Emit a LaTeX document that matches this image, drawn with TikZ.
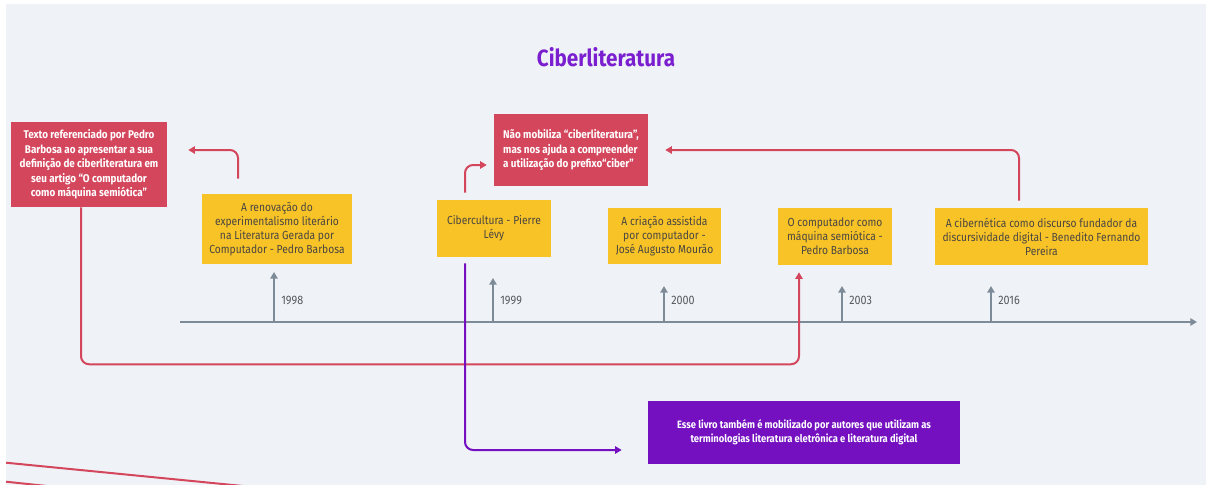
\documentclass[tikz,border=0pt]{standalone}
\usepackage{fontspec}
\setmainfont[FakeStretch=0.88]{Fira Sans}
\usetikzlibrary{arrows.meta,calc}

\definecolor{bgcol}{RGB}{239,243,247}
\definecolor{mapred}{RGB}{212,70,92}
\definecolor{mapyellow}{RGB}{248,195,38}
\definecolor{mappurple}{RGB}{117,16,193}
\definecolor{titlepurple}{RGB}{122,30,208}
\definecolor{axisgrey}{RGB}{125,139,153}
\definecolor{textgrey}{RGB}{74,70,66}
\definecolor{yeargrey}{RGB}{85,90,96}

\tikzset{
  yellowbox/.style={fill=mapyellow, text=textgrey, align=center, inner sep=0pt,
    font=\fontsize{8.75}{10.5}\selectfont},
  redbox/.style={fill=mapred, text=white, inner sep=0pt,
    font=\bfseries\fontsize{8.4}{10.8}\selectfont},
  purplebox/.style={fill=mappurple, text=white, align=center, inner sep=0pt,
    font=\bfseries\fontsize{8}{10.3}\selectfont},
  redarrow/.style={draw=mapred, line width=1.5pt, rounded corners=6pt,
    -{Triangle[length=5pt,width=5.5pt]}},
  purplearrow/.style={draw=mappurple, line width=1.5pt, rounded corners=6pt,
    -{Triangle[length=5pt,width=5.5pt]}},
  axisline/.style={draw=axisgrey, line width=1.5pt,
    -{Triangle[length=5pt,width=5.5pt]}},
  yearlbl/.style={anchor=west, inner sep=0.75pt, text=yeargrey,
    font=\fontsize{9.2}{10}\selectfont}
}

\begin{document}
\begin{tikzpicture}[x=0.75pt,y=0.75pt,yscale=-1,xscale=1]
\useasboundingbox (0,0) rectangle (1206,485);
%Shape: Rectangle (background)
\fill [bgcol] (6,4) rectangle (1206,485);

% Text Node
\node [text=titlepurple, font=\bfseries\fontsize{17.6}{19}\selectfont] (title) at (606,57) {Ciberliteratura};

%Shape: Rectangle
\node [redbox, align=center, minimum width=117pt, minimum height=63.75pt] (ref) at (89,164.5)
  {Texto referenciado por Pedro\\Barbosa ao apresentar a sua\\definição de ciberliteratura em\\seu artigo “O computador\\como máquina semiótica”};
%Shape: Rectangle
\node [redbox, align=left, minimum width=115.5pt, minimum height=54pt] (nao) at (571,150)
  {Não mobiliza “ciberliteratura”,\\mas nos ajuda a compreender\\a utilização do prefixo“ciber”};
%Shape: Rectangle
\node [yellowbox, minimum width=112.5pt, minimum height=52.5pt] (renov) at (277,229)
  {A renovação do\\experimentalismo literário\\na Literatura Gerada por\\Computador - Pedro Barbosa};
%Shape: Rectangle
\node [yellowbox, minimum width=85.5pt, minimum height=42.75pt] (ciber) at (494,228.5)
  {Cibercultura - Pierre\\Lévy};
%Shape: Rectangle
\node [yellowbox, minimum width=84.75pt, minimum height=42pt] (criacao) at (664.5,236)
  {A criação assistida\\por computador -\\José Augusto Mourão};
%Shape: Rectangle
\node [yellowbox, minimum width=85.5pt, minimum height=42.75pt] (comput) at (835,236.5)
  {O computador como\\máquina semiótica -\\Pedro Barbosa};
%Shape: Rectangle
\node [yellowbox, minimum width=159.75pt, minimum height=42.75pt] (cibernet) at (1041.5,236.5)
  {A cibernética como discurso fundador da\\discursividade digital - Benedito Fernando\\Pereira};
%Shape: Rectangle
\node [purplebox, minimum width=234pt, minimum height=47.25pt] (esse) at (804,432.5)
  {Esse livro também é mobilizado por autores que utilizam as\\terminologias literatura eletrônica e literatura digital};

%Straight Lines (timeline)
\coordinate (axisL) at (180,322);
\coordinate (axisR) at (1197,322);
\draw [axisline] (axisL) -- (axisR);
\foreach \x/\top/\yr in {274/272/1998, 493/278/1999, 664/286/2000, 842/286/2003, 991/286/2016}{
  \coordinate (t\yr) at (\x,322);
  \draw [axisline] (t\yr) -- (\x,\top);
  \node [yearlbl] (y\yr) at (\x+6,300) {\yr};
}

%Straight Lines (links)
\draw [redarrow] ($(renov.north)+(-39,-15)$) |- ($(ref.east)+(21,-14.5)$);
\draw [redarrow] ($(ciber.north)+(-29,-7)$) |- ($(nao.west)+(-7,15)$);
\draw [redarrow] ($(cibernet.north)+(-22.5,-7)$) |- ($(nao.east)+(17,0)$);
\draw [redarrow] ($(ref.south)+(-8,0)$) -- ++(0,157) -| ($(comput.south)+(-36,7)$);
\draw [purplearrow] ($(ciber.south)+(-29,6)$) |- ($(esse.west)+(-26,17.5)$);

%Straight Lines (cut off at the lower left)
\begin{scope}
  \clip (6,4) rectangle (1206,485);
  \draw [mapred, line width=1.5pt] (6,462.7) -- (250,486.7);
  \draw [mapred, line width=1.5pt] (6,481.7) -- (60,487.4);
\end{scope}
\end{tikzpicture}
\end{document}
